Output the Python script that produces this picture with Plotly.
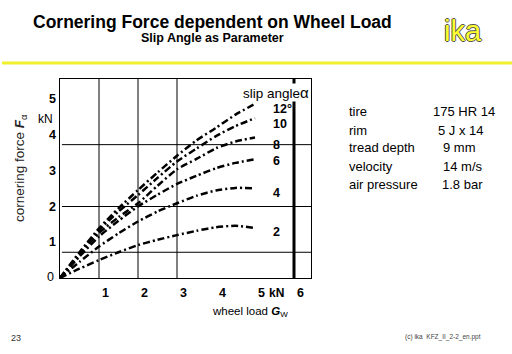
import plotly.graph_objects as go

# ---------------- data ----------------
load_kN = [0, 0.5, 1.0, 1.5, 2.0, 2.5, 3.0, 3.5, 4.0, 4.5, 5.0]
force_2 = [0, 0.26, 0.50, 0.72, 0.92, 1.07, 1.20, 1.32, 1.42, 1.46, 1.40]
force_4 = [0, 0.45, 0.88, 1.25, 1.58, 1.86, 2.09, 2.30, 2.45, 2.52, 2.51]
force_6 = [0, 0.60, 1.16, 1.60, 2.00, 2.33, 2.63, 2.86, 3.07, 3.22, 3.32]
force_8 = [0, 0.66, 1.26, 1.70, 2.09, 2.58, 3.04, 3.33, 3.63, 3.82, 3.93]
force_10 = [0, 0.70, 1.34, 1.86, 2.32, 2.80, 3.26, 3.62, 3.97, 4.25, 4.47]
force_12 = [0, 0.72, 1.39, 1.95, 2.46, 2.95, 3.42, 3.85, 4.20, 4.57, 4.87]
slip_angles = ["2", "4", "6", "8", "10", "12°"]
series = [force_2, force_4, force_6, force_8, force_10, force_12]

x_tick_vals = [1, 2, 3, 4, 5, 6]
x_tick_text = ["1", "2", "3", "4", "5", "6"]
y_tick_vals = [1, 2, 3, 4, 5]
y_tick_text = ["1", "2", "3", "4", "5"]

v_grid = [1, 2, 3]
v_thick = 6
h_grid = [0.72, 2.0, 3.73]

table_labels = ["tire", "rim", "tread depth", "velocity", "air pressure"]
table_values = ["175 HR 14", "5 J x 14", "9 mm", "14 m/s", "1.8 bar"]

# ---------------- layout helpers ----------------
W, H = 512, 354
X0, X1 = 60, 311          # plot area pixel edges
Y0, Y1 = 278, 79
PX_X = 39.0               # px per kN on x
PX_Y = 35.75              # px per kN on y
xmax = (X1 - X0) / PX_X
ymax = (Y0 - Y1) / PX_Y

def px(x):
    return x / W

def py(y):
    return 1 - y / H

FONT = "Liberation Sans, Arial, sans-serif"

fig = go.Figure()
for vals in series:
    fig.add_trace(go.Scatter(
        x=load_kN, y=vals, mode="lines",
        line=dict(color="black", width=2.5, dash="7px,3px,2px,3px", shape="spline", smoothing=0.6),
        showlegend=False, hoverinfo="skip", cliponaxis=True))

shapes = []
for v in v_grid:
    shapes.append(dict(type="line", xref="x", yref="y", x0=v, x1=v, y0=0, y1=ymax,
                       line=dict(color="black", width=1)))
shapes.append(dict(type="line", xref="x", yref="y", x0=v_thick, x1=v_thick, y0=0, y1=ymax,
                   line=dict(color="black", width=3)))
for h in h_grid:
    shapes.append(dict(type="line", xref="x", yref="y", x0=0.05, x1=xmax, y0=h, y1=h,
                       line=dict(color="black", width=1)))
# yellow header rule
shapes.append(dict(type="line", xref="paper", yref="paper", x0=px(2), x1=1, y0=py(63), y1=py(63),
                   line=dict(color="#f0f02a", width=3)))

ann = []

def A(**kw):
    d = dict(showarrow=False, xanchor="center", yanchor="middle")
    d.update(kw)
    ann.append(d)

# x tick labels
for v, t in zip(x_tick_vals, x_tick_text):
    A(x=v + 0.17, y=py(293), xref="x", yref="paper", text="<b>" + t + "</b>",
      font=dict(size=12.5, color="black", family=FONT))
A(x=5.56, y=py(293), xref="x", yref="paper", text="<b>kN</b>",
  font=dict(size=12, color="black", family=FONT))
# y tick labels
for v, t in zip(y_tick_vals, y_tick_text):
    A(x=px(52), y=v, xref="paper", yref="y", text="<b>" + t + "</b>",
      font=dict(size=12.5, color="black", family=FONT))
A(x=px(50), y=py(277), xref="paper", yref="paper", text="0",
  font=dict(size=12.5, color="black", family=FONT))
A(x=px(45), y=py(119), xref="paper", yref="paper", text="kN",
  font=dict(size=12, color="black", family=FONT))
# axis titles
A(x=px(20), y=py(168), xref="paper", yref="paper", textangle=-90,
  text="cornering force <b><i>F</i></b><sub>α</sub>",
  font=dict(size=13.5, color="#222", family=FONT))
A(x=px(210), y=py(312), xref="paper", yref="paper", xanchor="left",
  text="wheel load <b><i>G</i></b><sub>W</sub>",
  font=dict(size=11.5, color="black", family=FONT))
# slip angle labels
label_y = [1.30, 2.38, 3.27, 3.72, 4.31, 4.73]
for t, ly in zip(slip_angles, label_y):
    A(x=5.42, y=ly, xref="x", yref="y", xanchor="left", text="<b>" + t + "</b>",
      font=dict(size=12.5, color="black", family=FONT))
A(x=px(310), y=py(92), xref="paper", yref="paper", xanchor="right",
  text="slip angle<span style='font-size:15px'>α</span>", bgcolor="white", borderpad=0,
  font=dict(size=13.5, color="black", family=FONT))
# info table
row_y = [111.5, 130.5, 148, 166, 184]
for lab, ry in zip(table_labels, row_y):
    A(x=px(347), y=py(ry), xref="paper", yref="paper", xanchor="left", text=lab,
      font=dict(size=13, color="black", family=FONT))
for val, ry, vx in zip(table_values, row_y, [431, 436, 441, 441, 440]):
    A(x=px(vx), y=py(ry), xref="paper", yref="paper", xanchor="left", text=val,
      font=dict(size=13, color="black", family=FONT))
# titles
A(x=px(212), y=py(22), xref="paper", yref="paper",
  text="<b>Cornering Force dependent on Wheel Load</b>",
  font=dict(size=17.5, color="black", family=FONT))
A(x=px(212), y=py(38.5), xref="paper", yref="paper",
  text="<b>Slip Angle as Parameter</b>",
  font=dict(size=12.5, color="black", family=FONT))
A(x=px(463), y=py(31), xref="paper", yref="paper", text="ika",
  font=dict(size=29, color="#ffff30", family=FONT,
            shadow="1px 0 0 #555, -1px 0 0 #555, 0 1px 0 #555, 0 -1px 0 #555"))
# footer
A(x=px(16), y=py(338), xref="paper", yref="paper", text="23",
  font=dict(size=9, color="#333", family=FONT))
A(x=px(443), y=py(337), xref="paper", yref="paper", text="(c) ika  KFZ_II_2-2_en.ppt",
  font=dict(size=6.5, color="#444", family=FONT))

fig.update_layout(
    width=W, height=H, margin=dict(l=0, r=0, t=0, b=0),
    paper_bgcolor="white", plot_bgcolor="white",
    shapes=shapes, annotations=ann,
    xaxis=dict(domain=[px(X0), X1 / W], range=[0, xmax], showgrid=False, zeroline=False,
               showticklabels=False, ticks="", showline=True, mirror=True,
               linecolor="black", linewidth=1),
    yaxis=dict(domain=[py(Y0), py(Y1)], range=[0, ymax], showgrid=False, zeroline=False,
               showticklabels=False, ticks="", showline=True, mirror=True,
               linecolor="black", linewidth=1),
)
fig.write_html("out.html")
